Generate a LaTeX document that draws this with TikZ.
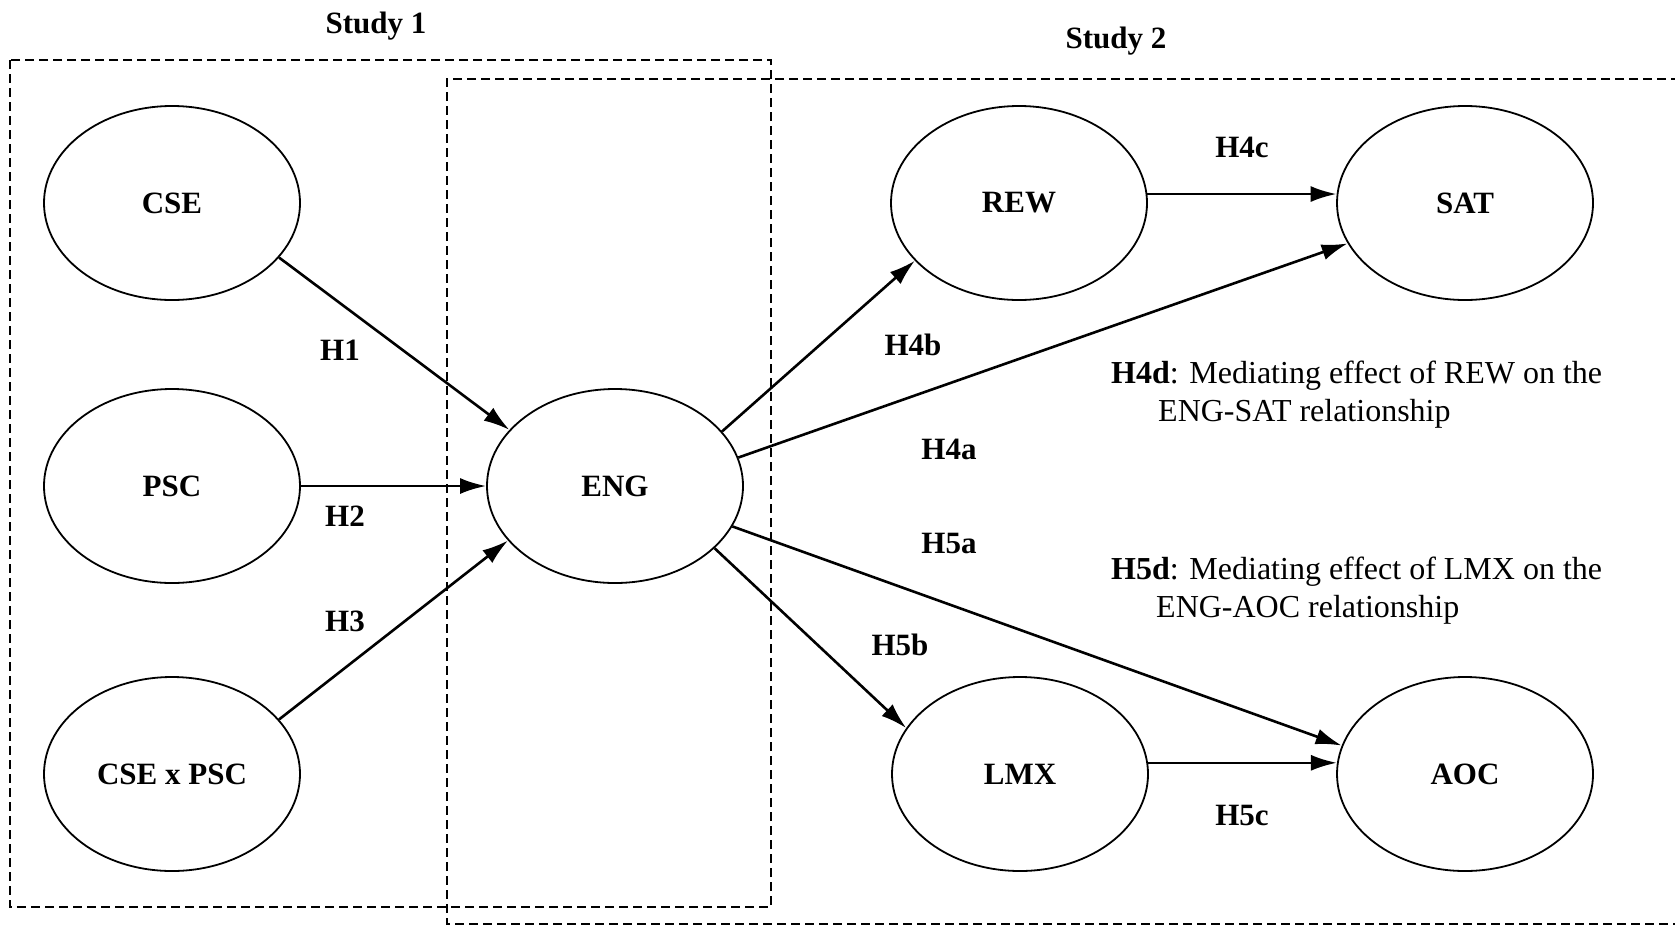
\documentclass[tikz,border=0pt]{standalone}
\usepackage{fontspec}
\setmainfont{Liberation Serif}
\usetikzlibrary{shapes.geometric,arrows.meta}
\begin{document}
\begin{tikzpicture}[x=1pt,y=-1pt,
  var/.style={ellipse,draw,line width=1.8pt,minimum width=256pt,minimum height=194pt,inner sep=0pt,font=\fontsize{31}{37}\selectfont\bfseries},
  hyp/.style={font=\fontsize{31}{37}\selectfont\bfseries,inner sep=0pt},
  note/.style={font=\fontsize{32}{38}\selectfont,inner sep=0pt,align=left,anchor=north west},
  arr/.style={line width=2.6pt,-{Latex[length=26pt,width=16pt]}},
  studybox/.style={line width=1.4pt,dash pattern=on 9pt off 5pt}]
\useasboundingbox (0,0) rectangle (1675,927);
% study boxes
\draw[studybox] (10,60) rectangle (771,907);
\draw[studybox] (1680,79) -- (447,79) -- (447,924) -- (1680,924);
\node[hyp] (s1) at (376,26) {Study 1};
\node[hyp] (s2) at (1116,41) {Study 2};
% variables
\node[var] (CSE) at (172,203) {CSE};
\node[var] (PSC) at (172,486) {PSC};
\node[var] (CxP) at (172,774) {CSE x PSC};
\node[var] (ENG) at (615,486) {ENG};
\node[var] (REW) at (1019,203) {REW};
\node[var] (SAT) at (1465,203) {SAT};
\node[var] (LMX) at (1020,774) {LMX};
\node[var] (AOC) at (1465,774) {AOC};
% arrows
\draw[arr] (CSE.-27) -- (ENG.152);
\draw[arr] (PSC.east) -- (ENG.west);
\draw[arr] (CxP.27) -- (ENG.-153);
\draw[arr] (ENG.27) -- (REW.-151);
\draw[arr] (ENG.13) -- (SAT.-161);
\draw[arr] (ENG.-19) -- (AOC.167);
\draw[arr] (ENG.-32) -- (LMX.158);
\draw[arr] (REW.4) -- (SAT.176);
\draw[arr] (LMX.5) -- (AOC.175);
% labels
\node[hyp] (h1) at (340,350) {H1};
\node[hyp] (h2) at (345,516) {H2};
\node[hyp] (h3) at (345,621) {H3};
\node[hyp] (h4b) at (913,345) {H4b};
\node[hyp] (h4a) at (949,449) {H4a};
\node[hyp] (h5a) at (949,543) {H5a};
\node[hyp] (h5b) at (900,645) {H5b};
\node[hyp] (h4c) at (1242,147) {H4c};
\node[hyp] (h5c) at (1242,815) {H5c};
\node[note] (h4d) at (1111,361) {\textbf{H4d}: Mediating effect of REW on the\\\hspace*{47pt}ENG-SAT relationship};
\node[note] (h5d) at (1111,557) {\textbf{H5d}: Mediating effect of LMX on the\\\hspace*{45pt}ENG-AOC relationship};
\end{tikzpicture}
\end{document}
